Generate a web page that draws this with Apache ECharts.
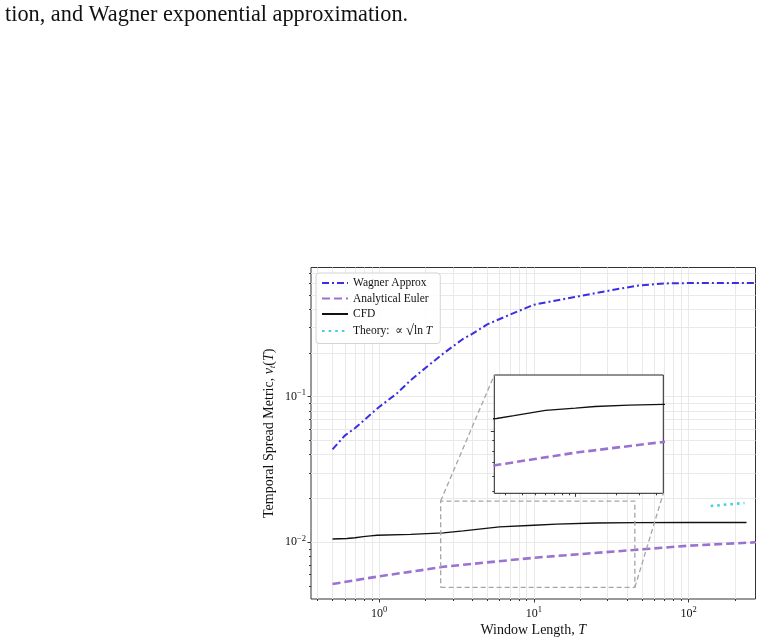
<!DOCTYPE html>
<html>
<head>
<meta charset="utf-8">
<script src="https://cdn.jsdelivr.net/npm/echarts@6/dist/echarts.min.js"></script>
<style>
  html, body { margin: 0; padding: 0; background: #fff; }
  #chart { width: 763px; height: 644px; }
</style>
</head>
<body>
<div id="chart"></div>
<script>
// axis ranges
const xRange = [0.363, 271];
const yRange = [0.00408, 0.7716];
// zoomed region shown in the inset
const zoomT = [2.5, 45];
const zoomV = [0.0049, 0.0192];

// ticks
const tMajor = [1, 10, 100];
const tMinor = [0.4, 0.5, 0.6, 0.7, 0.8, 0.9, 2, 3, 4, 5, 6, 7, 8, 9, 20, 30, 40, 50, 60, 70, 80, 90, 200];
const vMajor = [0.01, 0.1];
const vMinor = [0.005, 0.006, 0.007, 0.008, 0.009, 0.02, 0.03, 0.04, 0.05, 0.06, 0.07, 0.08, 0.09,
  0.2, 0.3, 0.4, 0.5, 0.6, 0.7];
const insetTMajor = [10];
const insetTMinor = [3, 4, 5, 6, 7, 8, 9, 20, 30, 40];
const insetVMajor = [0.01];
const insetVMinor = [0.005, 0.006, 0.007, 0.008, 0.009];

// series
const wagnerT = [0.5, 0.6, 0.7, 0.75, 1, 1.3, 1.6, 2, 2.6, 3.5, 4, 5, 7, 10, 18, 30, 46, 70, 100, 150, 271];
const wagnerV = [0.0435, 0.054, 0.061, 0.065, 0.085, 0.105, 0.13, 0.158, 0.198, 0.25, 0.27, 0.314,
  0.366, 0.428, 0.482, 0.533, 0.578, 0.600, 0.603, 0.604, 0.604];

const eulerT = [0.5, 1, 2, 2.6, 5, 10, 20, 44, 100, 271];
const eulerV = [0.00517, 0.00584, 0.0065, 0.00679, 0.00728, 0.00783, 0.0083, 0.00885, 0.00948, 0.0100];

const cfdT = [0.5, 0.62, 0.7, 0.79, 0.88, 0.97, 1.6, 2.6, 3.5, 6, 10, 14, 25, 45, 100, 237];
const cfdV = [0.01054, 0.01062, 0.01075, 0.01095, 0.01108, 0.01118, 0.01135, 0.01162, 0.0120, 0.01275, 0.0131,
  0.01335, 0.01357, 0.01367, 0.01368, 0.01368];

const theoryT = [139, 160, 185, 205, 230];
const theoryV = [0.01774, 0.0180, 0.01826, 0.01843, 0.01862];

const SERIF = '"Liberation Serif", "DejaVu Serif", serif';
const zip = (a, b) => a.map((v, i) => [v, b[i]]);

const chart = echarts.init(document.getElementById('chart'), null, { renderer: 'canvas' });

const powLabel = (value) => {
  const e = Math.round(Math.log10(value));
  return '{b|10}{s|' + (e < 0 ? '\u2212' + (-e) : e) + '}';
};
const powRich = {
  b: { fontFamily: SERIF, fontSize: 12, color: '#111' },
  s: { fontFamily: SERIF, fontSize: 8.5, color: '#111', padding: [0, 0, 8, 0] }
};

const tickAxis = (gridIndex, range, ticks, len, extra) => Object.assign({
  type: 'log', logBase: 10, gridIndex, min: range[0], max: range[1],
  axisLine: { show: false },
  axisTick: { show: true, customValues: ticks, length: len, lineStyle: { color: '#222', width: 0.9 } },
  axisLabel: { show: false },
  splitLine: { show: false }
}, extra || {});

const options = {
  animation: false,
  backgroundColor: '#fff',
  textStyle: { fontFamily: SERIF },
  grid: [
    { left: 311, top: 267.5, width: 444.5, height: 331.5, show: true, backgroundColor: '#fff',
      borderColor: '#333', borderWidth: 1, z: 0, outerBoundsMode: 'none', containLabel: false },
    { left: 494.3, top: 375, width: 169, height: 118.3, show: true, backgroundColor: '#fff',
      borderColor: '#222', borderWidth: 1, z: 2, outerBoundsMode: 'none', containLabel: false }
  ],
  legend: {
    data: ['Wagner Approx', 'Analytical Euler', 'CFD', 'Theory'],
    orient: 'vertical',
    left: 316, top: 273,
    itemWidth: 26, itemHeight: 10, itemGap: 3.5,
    padding: [4, 8, 5, 5],
    backgroundColor: 'rgba(255,255,255,0.85)',
    borderColor: '#d4d4d4', borderWidth: 1, borderRadius: 3,
    z: 8,
    itemStyle: { opacity: 0, borderWidth: 0 },
    textStyle: {
      fontFamily: SERIF, fontSize: 11.5, color: '#111',
      rich: {
        n: { fontFamily: SERIF, fontSize: 11.5, color: '#111' },
        r: { fontFamily: SERIF, fontSize: 15, color: '#111' },
        i: { fontFamily: SERIF, fontSize: 11.5, fontStyle: 'italic', color: '#111' }
      }
    },
    formatter: (name) => name === 'Theory' ? '{n|Theory:  \u221D }{r|\u221A}{n|ln }{i|T}' : name
  },
  xAxis: [
    tickAxis(0, xRange, tMajor, 3.5, {
      axisLabel: { show: true, customValues: tMajor, margin: 6, formatter: powLabel, rich: powRich },
      name: 'Window Length, {i|T}',
      nameLocation: 'middle', nameGap: 24, nameMoveOverlap: false,
      nameTextStyle: {
        fontFamily: SERIF, fontSize: 14, color: '#111',
        rich: { i: { fontFamily: SERIF, fontSize: 14, fontStyle: 'italic', color: '#111' } }
      }
    }),
    tickAxis(0, xRange, tMinor, 2, { position: 'bottom' }),
    tickAxis(1, zoomT, insetTMajor, 3.5, { z: 3 }),
    tickAxis(1, zoomT, insetTMinor, 2, { position: 'bottom', z: 3 })
  ],
  yAxis: [
    tickAxis(0, yRange, vMajor, 3.5, {
      axisLabel: { show: true, customValues: vMajor, margin: 5, formatter: powLabel, rich: powRich },
      name: 'Temporal Spread Metric, {i|\u03BD}{sub|t}({i|T})',
      nameLocation: 'middle', nameGap: 34, nameRotate: 90, nameMoveOverlap: false,
      nameTextStyle: {
        fontFamily: SERIF, fontSize: 14, color: '#111',
        rich: {
          i: { fontFamily: SERIF, fontSize: 14, fontStyle: 'italic', color: '#111' },
          sub: { fontFamily: SERIF, fontSize: 9, fontStyle: 'italic', color: '#111', padding: [6, 0, 0, 0] }
        }
      }
    }),
    tickAxis(0, yRange, vMinor, 2, { position: 'left' }),
    tickAxis(1, zoomV, insetVMajor, 3.5, { z: 3 }),
    tickAxis(1, zoomV, insetVMinor, 2, { position: 'left', z: 3 })
  ],
  series: [
    {
      // grid lines (major + minor), under the inset
      type: 'line', name: 'grid', xAxisIndex: 0, yAxisIndex: 0, data: [], z: 1, silent: true,
      markLine: {
        silent: true, symbol: 'none', z: 1, animation: false,
        label: { show: false },
        lineStyle: { color: '#e9e9e9', width: 1, type: 'solid' },
        data: tMajor.concat(tMinor).map(t => ({ xAxis: t }))
          .concat(vMajor.concat(vMinor).map(v => ({ yAxis: v })))
      }
    },
    {
      type: 'line', name: 'Wagner Approx', xAxisIndex: 0, yAxisIndex: 0, z: 4,
      data: zip(wagnerT, wagnerV), symbol: 'none', color: '#3a2fe3',
      lineStyle: { width: 2, type: [7, 3, 2, 3], color: '#3a2fe3' }
    },
    {
      type: 'line', name: 'Analytical Euler', xAxisIndex: 0, yAxisIndex: 0, z: 4,
      data: zip(eulerT, eulerV), symbol: 'none', color: '#9b72d0',
      lineStyle: { width: 2.6, type: [8, 4], color: '#9b72d0' }
    },
    {
      type: 'line', name: 'CFD', xAxisIndex: 0, yAxisIndex: 0, z: 4,
      data: zip(cfdT, cfdV), symbol: 'none', color: '#111',
      lineStyle: { width: 1.3, color: '#111' }
    },
    {
      type: 'line', name: 'Theory', xAxisIndex: 0, yAxisIndex: 0, z: 4,
      data: zip(theoryT, theoryV), symbol: 'none', color: '#45cfe0',
      lineStyle: { width: 2.6, type: [2.6, 4], color: '#45cfe0' }
    },
    {
      type: 'line', name: 'zoom box', xAxisIndex: 0, yAxisIndex: 0, z: 4, silent: true,
      data: [[zoomT[0], zoomV[0]], [zoomT[1], zoomV[0]], [zoomT[1], zoomV[1]], [zoomT[0], zoomV[1]], [zoomT[0], zoomV[0]]],
      symbol: 'none', clip: false,
      lineStyle: { width: 1.3, type: [5, 3], color: '#a6a6a6' }
    },
    {
      type: 'line', name: 'CFD inset', xAxisIndex: 2, yAxisIndex: 2, z: 5,
      data: zip(cfdT, cfdV), symbol: 'none', clip: true,
      lineStyle: { width: 1.3, color: '#111' }
    },
    {
      type: 'line', name: 'Euler inset', xAxisIndex: 2, yAxisIndex: 2, z: 5,
      data: zip(eulerT, eulerV), symbol: 'none', clip: true,
      lineStyle: { width: 2.6, type: [8, 4], color: '#9b72d0' }
    }
  ],
  graphic: [
    {
      type: 'text', left: 5, top: 4, z: 10,
      style: { text: 'tion, and Wagner exponential approximation.', fontFamily: SERIF, fontSize: 22.3, fill: '#111' }
    }
  ]
};

chart.setOption(options);

// connector lines from the zoom box to the inset corners
const boxTL = chart.convertToPixel({ seriesIndex: 5 }, [zoomT[0], zoomV[1]]);
const boxBR = chart.convertToPixel({ seriesIndex: 5 }, [zoomT[1], zoomV[0]]);
const insTL = chart.convertToPixel({ seriesIndex: 6 }, [zoomT[0], zoomV[1]]);
const insBR = chart.convertToPixel({ seriesIndex: 6 }, [zoomT[1], zoomV[0]]);
const connStyle = { stroke: '#a6a6a6', lineWidth: 1.3, lineDash: [5, 3] };
chart.setOption({
  graphic: [
    options.graphic[0],
    { type: 'line', z: 6, shape: { x1: boxTL[0], y1: boxTL[1], x2: insTL[0], y2: insTL[1] }, style: connStyle },
    { type: 'line', z: 6, shape: { x1: boxBR[0], y1: boxBR[1], x2: insBR[0], y2: insBR[1] }, style: connStyle }
  ]
});
</script>
</body>
</html>
